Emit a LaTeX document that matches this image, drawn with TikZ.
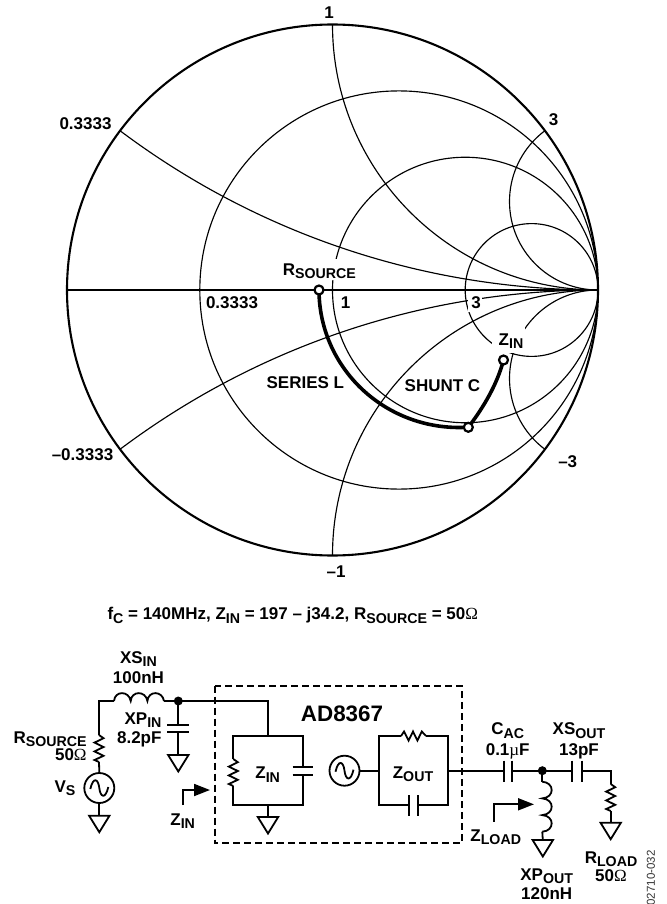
\documentclass[tikz,border=0pt]{standalone}
\usepackage{fontspec}
\setmainfont{Liberation Sans}[BoldFont={Liberation Sans Bold}]
\newfontfamily\omfont{Liberation Serif}
\usetikzlibrary{arrows.meta}
\newcommand\sbl[1]{\raisebox{-3.6pt}{\fontsize{14.2}{14.2}\selectfont #1}}
\newcommand\ohm{{\omfont\mdseries Ω}}
\newcommand\micro{{\omfont\mdseries µ}}
\tikzset{
  thinarc/.style={line width=1.15pt,black},
  outer/.style={line width=2.1pt,black},
  axis/.style={line width=1.8pt,black},
  match/.style={line width=3.6pt,black},
  mark point/.style={circle,draw=black,fill=white,line width=2.2pt,minimum size=9pt,inner sep=0pt},
  lab/.style={font=\fontsize{17}{17}\selectfont\bfseries,inner sep=0pt,text=black,align=center},
  wire/.style={line width=1.8pt,black,line join=miter},
  boxdash/.style={line width=1.8pt,black,dash pattern=on 7pt off 4pt},
  dot/.style={circle,fill=black,minimum size=9pt,inner sep=0pt},
  src/.style={circle,draw=black,line width=1.8pt,fill=white,minimum size=30pt,inner sep=0pt},
  flow/.style={line width=1.8pt,black,-{Triangle[length=16pt,width=12pt]}},
  vres/.pic={\draw[wire] (0,0)--(4.5,3.2)--(-4.5,7.6)--(4.5,12)--(-4.5,16.4)--(4.5,20.8)--(-4.5,25)--(0,27);},
  hres/.pic={\draw[wire] (0,0)--(3,-4.5)--(7.6,4.5)--(12,-4.5)--(16.4,4.5)--(20.8,-4.5)--(25,0);},
  gnd/.pic={\draw[wire,line join=miter] (-10.2,0)--(10.2,0)--(0,16.5)--cycle;},
  hind/.pic={\draw[wire] (0,0) .. controls (0.8,-10.5) and (15,-10.5) .. (16.7,0) .. controls (17.5,-10.5) and (31.7,-10.5) .. (33.4,0) .. controls (34.2,-10.5) and (48.4,-10.5) .. (50,0);},
  vind/.pic={\draw[wire] (0,0) .. controls (12.5,0.8) and (12.5,15.8) .. (0,16.7) .. controls (12.5,17.5) and (12.5,32.5) .. (0,33.4) .. controls (12.5,34.2) and (12.5,49.2) .. (0,50);},
  sine/.pic={\draw[wire] (-9,1) .. controls (-6,-12) and (-1,-9) .. (0,0) .. controls (1,9) and (6,12) .. (9,-1);},
}
\begin{document}
\begin{tikzpicture}[x=1pt,y=-1pt]
\useasboundingbox (0,0) rectangle (666,904);
% ---- Smith chart
\coordinate (C) at (332.5,290);
\coordinate (W) at (67,290);
\coordinate (E) at (598,290);
\begin{scope}
  \clip (C) circle[radius=265.5pt];
  \draw[thinarc] (465.25,290) circle[radius=132.75pt];
  \draw[thinarc] (398.9,290) circle[radius=199.1pt];
  \draw[thinarc] (531.6,290) circle[radius=66.4pt];
  \draw[thinarc] (598,24.5) circle[radius=265.5pt];
  \draw[thinarc] (598,555.5) circle[radius=265.5pt];
  \draw[thinarc] (598,201.5) circle[radius=88.5pt];
  \draw[thinarc] (598,378.5) circle[radius=88.5pt];
  \draw[thinarc] (598,-506.5) circle[radius=796.5pt];
  \draw[thinarc] (598,1086.5) circle[radius=796.5pt];
\end{scope}
\fill[white] (282,259) rectangle (356,280);
\fill[white] (492,327) rectangle (525,353);
\fill[white] (468,294) rectangle (482,312);
\draw[axis] (W) -- (E);
\draw[outer] (C) circle[radius=265.5pt];
\coordinate (Rs) at (319,290);
\coordinate (Mid) at (468.3,427.3);
\coordinate (Zp) at (503.5,360);
\draw[match] plot[domain=180:274,samples=50,smooth] ({459+140*cos(\x)},{290-137.5*sin(\x)});
\draw[match] (Mid) .. controls (483,408) and (497,385) .. (Zp);
\node[mark point] (mRs) at (Rs) {};
\node[mark point] (mMid) at (Mid) {};
\node[mark point] (mZ) at (Zp) {};
\node[lab] (t1) at (329,13) {1};
\node[lab] (t3) at (553.5,120) {3};
\node[lab] (tu) at (85.5,124) {0.3333};
\node[lab] (tl) at (82.5,455) {–0.3333};
\node[lab] (tm1) at (336,572) {–1};
\node[lab] (tm3) at (567.7,461.7) {–3};
\node[lab] (ti) at (232,303) {0.3333};
\node[lab] (i1) at (345.7,303) {1};
\node[lab] (i3) at (476,303) {3};
\node[lab,anchor=base west] (rsl) at (282.7,275) {R\sbl{SOURCE}};
\node[lab,anchor=base] (zinl) at (511,345) {Z\sbl{IN}};
\node[lab] (ser) at (305.3,382.7) {SERIES L};
\node[lab] (shu) at (442.5,386) {SHUNT C};
\node[lab,anchor=base west] (cap) at (107.3,619.5) {f\sbl{C} = 140MHz, Z\sbl{IN} = 197 – j34.2, R\sbl{SOURCE} = 50\ohm};
% ---- Circuit: input
\draw[boxdash] (215,685.7) rectangle (461.7,843.3);
\coordinate (Lin) at (114,701);
\coordinate (Lout) at (164,701);
\coordinate (Rt) at (99,735);
\coordinate (Rb) at (99,762);
\node[dot] (n1) at (178.3,701) {};
\node[src] (vs) at (99.3,788) {};
\coordinate (g1) at (99.3,815.7);
\draw[wire] (Lin) -| (Rt);
\pic at (Lin) {hind};
\pic at (Rt) {vres};
\draw[wire] (Rb) -- (vs.north);
\pic at (vs) {sine};
\draw[wire] (vs.south) -- (g1);
\pic at (g1) {gnd};
\coordinate (Cp1) at (178.3,725);
\coordinate (Cp2) at (178.3,732.3);
\coordinate (g2) at (178.3,755);
\draw[wire] (Lout) -- (n1.center);
\draw[wire] (n1.center) -- (Cp1);
\draw[wire] (167,725) -- (189,725);
\draw[wire] (167,732.3) -- (189,732.3);
\draw[wire] (Cp2) -- (g2);
\pic at (g2) {gnd};
% ---- Z_IN box
\coordinate (ZiT) at (268,736);
\coordinate (ZiB) at (268,805);
\coordinate (g3) at (268,817);
\draw[wire] (n1.center) -| (ZiT);
\draw[wire] (233.3,759) -- (233.3,736) -- (302.7,736) -- (302.7,766.7);
\draw[wire] (292.7,766.7) -- (312.7,766.7);
\draw[wire] (292.7,775.2) -- (312.7,775.2);
\draw[wire] (302.7,775.2) -- (302.7,805) -- (233.3,805) -- (233.3,786);
\pic at (233.3,759) {vres};
\draw[wire] (ZiB) -- (g3);
\pic at (g3) {gnd};
\node[lab,anchor=base] (zi) at (267.7,778.5) {Z\sbl{IN}};
\coordinate (fa) at (183,805);
\coordinate (fb) at (183,790);
\coordinate (fc) at (210,790);
\draw[flow] (fa) -- (fb) -- (fc);
\node[lab,anchor=base] (zib) at (182.7,825) {Z\sbl{IN}};
% ---- Source and Z_OUT box
\node[src] (vo) at (344.5,770.7) {};
\pic at (vo) {sine};
\coordinate (ZoL) at (378.7,770.7);
\coordinate (ZoR) at (447.7,770.7);
\draw[wire] (vo.east) -- (ZoL);
\draw[wire] (401,736) -- (378.7,736) -- (378.7,805) -- (409.3,805);
\draw[wire] (426,736) -- (447.7,736) -- (447.7,805) -- (417.7,805);
\pic at (401,736) {hres};
\draw[wire] (409.3,795) -- (409.3,815.7);
\draw[wire] (417.7,795) -- (417.7,815.7);
\node[lab,anchor=base] (zo) at (413,778) {Z\sbl{OUT}};
% ---- Output network
\node[dot] (n2) at (542.3,770.7) {};
\coordinate (Ca1) at (504,770.7);
\coordinate (Ca2) at (512,770.7);
\coordinate (Cb1) at (572.3,770.7);
\coordinate (Cb2) at (581.7,770.7);
\coordinate (Rlt) at (610.7,784);
\coordinate (Rlb) at (610.7,811);
\coordinate (g4) at (610.7,822.7);
\draw[wire] (ZoR) -- (Ca1);
\draw[wire] (504,760.7) -- (504,781.7);
\draw[wire] (512,760.7) -- (512,781.7);
\draw[wire] (Ca2) -- (n2.center) -- (Cb1);
\draw[wire] (572.3,760.7) -- (572.3,781.7);
\draw[wire] (581.7,760.7) -- (581.7,781.7);
\draw[wire] (Cb2) -| (Rlt);
\pic at (Rlt) {vres};
\draw[wire] (Rlb) -- (g4);
\pic at (g4) {gnd};
\coordinate (Lp) at (542.3,781.7);
\coordinate (Lq) at (542.3,831.7);
\coordinate (g5) at (542.8,840);
\draw[wire] (n2.center) -- (Lp);
\pic at (Lp) {vind};
\draw[wire] (Lq) -- (g5);
\pic at (g5) {gnd};
\coordinate (ga) at (494.3,821.7);
\coordinate (gb) at (494.3,804.3);
\coordinate (gc) at (534,804.3);
\draw[flow] (ga) -- (gb) -- (gc);
% ---- Circuit labels
\node[lab,anchor=base east] (l1) at (86.8,743) {R\sbl{SOURCE}};
\node[lab,anchor=base east] (l2) at (86.8,760) {50\ohm};
\node[lab,anchor=base] (l3) at (65,792) {V\sbl{S}};
\node[lab,anchor=base] (l4) at (138.5,663) {XS\sbl{IN}};
\node[lab,anchor=base] (l5) at (138.5,683) {100nH};
\node[lab,anchor=base east] (l6) at (161.7,724) {XP\sbl{IN}};
\node[lab,anchor=base east] (l7) at (161.7,743.5) {8.2pF};
\node[lab,font=\fontsize{22.4}{22.4}\selectfont\bfseries] (l8) at (342,714) {AD8367};
\node[lab,anchor=base] (l9) at (507.7,734.5) {C\sbl{AC}};
\node[lab,anchor=base] (l10) at (507.7,755) {0.1\micro F};
\node[lab,anchor=base] (l11) at (579,734.5) {XS\sbl{OUT}};
\node[lab,anchor=base] (l12) at (579,755) {13pF};
\node[lab,anchor=base] (l13) at (495.7,841) {Z\sbl{LOAD}};
\node[lab,anchor=base] (l14) at (546.7,880) {XP\sbl{OUT}};
\node[lab,anchor=base] (l15) at (546.7,899) {120nH};
\node[lab,anchor=base] (l16) at (611,863) {R\sbl{LOAD}};
\node[lab,anchor=base] (l17) at (611,881) {50\ohm};
\node[font=\fontsize{11.5}{11.5}\selectfont,inner sep=0pt,rotate=90,text=black!80] (l18) at (651,878) {02710-032};
\end{tikzpicture}
\end{document}
